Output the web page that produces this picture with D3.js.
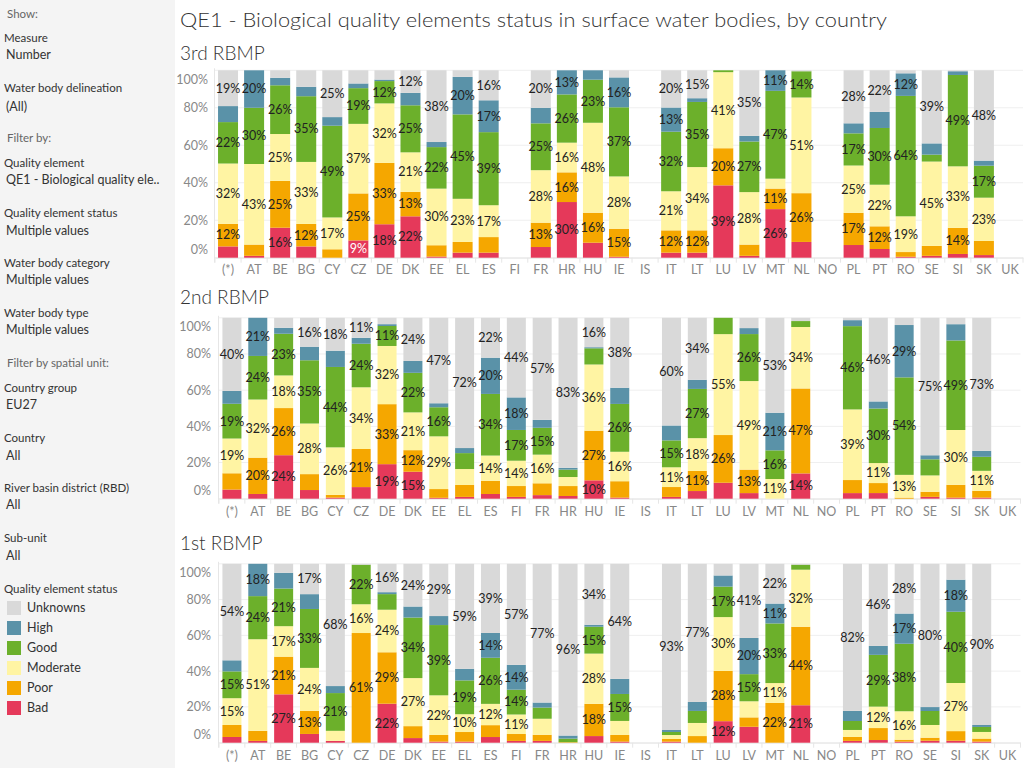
<!DOCTYPE html>
<html><head><meta charset="utf-8">
<script src="https://cdn.jsdelivr.net/npm/d3@7"></script>
<style>
body{margin:0;background:#fff;}
svg{display:block;font-family:Lato,"Open Sans",sans-serif;}
</style></head><body>
<svg id="c" width="1024" height="768"></svg>
<script>
const countries = ["(*)","AT","BE","BG","CY","CZ","DE","DK","EE","EL","ES","FI","FR","HR","HU","IE","IS","IT","LT","LU","LV","MT","NL","NO","PL","PT","RO","SE","SI","SK","UK"];
const statuses = ["Bad","Poor","Moderate","Good","High","Unknowns"];
const panels = ["3rd RBMP","2nd RBMP","1st RBMP"];
const yTicks = [0,0.2,0.4,0.6,0.8,1];

// 3rd RBMP (% of water bodies)
const bad3  = [6,1,16,6,0,9.2,18,22,0.6,2.7,2.7,null,5.7,30,8,0.5,null,2.7,2.7,39,1,26,8.4,null,6.7,4.6,0.5,1,2,1.4,null];
const poor3 = [12,6,25,12,4.5,25,33,13,6,5.7,8.3,null,13,16,16,15,null,12,12,20,6,11,26,null,17,12,2.5,5.3,14,7.5,null];
const mod3  = [32,43,25,33,17,37,32,21,30,23,17,null,28,16,48,28,null,21,34,41,28,5.3,51,null,25,22,19,45,33,23,null];
const good3 = [22,30,26,35,49,19,12,25,22,45,39,null,25,26,23,37,null,32,35,1,27,47,14,null,17,30,64,3.7,49,17,null];
const high3 = [8.5,20,4,5,4.6,2.5,0.8,6.6,2.7,20,17,null,8.3,13,5,16,null,13,2,0,3,11,0,null,5.3,8.5,12,6,2,2.7,null];
const unk3  = [19,0,4,8.8,25,7,5,12,38,3.5,16,null,20,0,0,3.8,null,20,15,0,35,0,0.5,null,28,22,1.6,39,0.5,48,null];

// 2nd RBMP
const bad2  = [5,2.6,24,4.8,0.6,6.4,19,15,0.5,1,2.6,1,2,1.5,10,0.6,null,1,4.2,8.7,3.1,0,14,null,3.1,3.1,0,1,0.6,0.6,null];
const poor2 = [8.9,20,26,8.8,1.5,21,33,12,4.8,6.6,7.2,6,6.6,5.5,27,8.9,null,5.5,11,26,13,0,47,null,7.2,5.5,0.6,2.8,7,3.7,null];
const mod2  = [19,32,18,28,26,34,32,21,29,8.8,14,14,16,5,36,16,null,11,18,55,49,11,34,null,39,11,12.6,8.9,30,11,null];
const good2 = [19,24,23,35,44,24,11,22,16,8.8,34,17,15,4.1,8.8,26,null,15,27,8.9,26,16,3.3,null,46,30,54,8.8,49,7.7,null];
const high2 = [7,21,3.3,7.5,8.9,3.3,1,6.6,2.2,2.8,20,18,4.4,1,0.6,8.8,null,8.3,5,0,3.3,21,0,null,3.3,3.9,29,2.2,8.9,3.3,null];
const unk2  = [40,0,5.5,16,18,11,3.5,24,47,72,22,44,57,83,16,38,null,60,34,0,5.7,53,1.8,null,1.3,46,4,75,3.5,73,null];

// 1st RBMP
const bad1  = [3.2,1,27,4.9,1,0,22,2.6,0.6,0.6,3.2,1,1,0,3.7,0.6,null,0.6,0,12,8.8,0,21,null,1,1.5,0.6,1.1,1.1,0.6,null];
const poor1 = [6.7,5.6,21,13,0,61,29,6.7,3.7,5.4,6.7,3.9,3.4,0.3,18,3.7,null,1.5,3.7,28,5.2,22,44,null,2.2,6.7,1.1,1.7,5.4,1.7,null];
const mod1  = [15,51,17,24,5.6,16,24,27,22,10,12,11,8.9,0,28,7.8,null,2.2,7.3,30,8.9,11,32,null,3.9,12,16,7.1,27,3.7,null];
const good1 = [15,24,21,33,21,22,8.8,34,39,19,26,14,6.2,2,15,15,null,1.7,6.7,17,15,33,2.8,null,5,29,38,7.8,40,2.8,null];
const high1 = [6.2,18,8.8,8.3,3.9,0,1.1,6.2,5,6.5,14,14,2.8,1.7,1.1,8.4,null,1.1,5,6.2,20,11,0,null,5.6,5,17,2.2,18,1.1,null];
const unk1  = [54,0,5,17,68,0.5,16,24,29,59,39,57,77,96,34,64,null,93,77,6.5,41,22,0.5,null,82,46,28,80,8.9,90,null];

const colors = {Bad:"#e5395a",Poor:"#f5a700",Moderate:"#fff4a3",Good:"#6cb02b",High:"#5a92a8",Unknowns:"#d9d9d9"};
const legendOrder = ["Unknowns","High","Good","Moderate","Poor","Bad"];

const svg = d3.select("#c");
// sidebar
svg.append("rect").attr("x",0).attr("y",0).attr("width",175).attr("height",768).attr("fill","#f4f4f4");
const side = [
  ["Show:",14,"s"],["Measure",38,"f"],["Number",55,"v"],
  ["Water body delineation",88,"f"],["(All)",107,"v"],
  ["Filter by:",138,"s"],
  ["Quality element",163,"f"],["QE1 - Biological quality ele..",180,"v"],
  ["Quality element status",213,"f"],["Multiple values",231,"v"],
  ["Water body category",263,"f"],["Multiple values",280,"v"],
  ["Water body type",313,"f"],["Multiple values",330,"v"],
  ["Filter by spatial unit:",363,"s"],
  ["Country group",388,"f"],["EU27",405,"v"],
  ["Country",438,"f"],["All",456,"v"],
  ["River basin district (RBD)",488,"f"],["All",505,"v"],
  ["Sub-unit",538,"f"],["All",556,"v"],
  ["Quality element status",589,"f"]
];
svg.append("g").selectAll("text").data(side).join("text")
  .attr("x",d=>d[2]==="f"?4:(d[2]==="v"?6:7))
  .attr("y",d=>d[1]).attr("dy","0.35em")
  .attr("font-size",d=>d[2]==="v"?12.5:(d[2]==="s"?11.5:11.5))
  .attr("fill",d=>d[2]==="s"?"#666":"#333")
  .text(d=>d[0]);
const lg = svg.append("g").selectAll("g").data(legendOrder).join("g")
  .attr("transform",(d,i)=>`translate(7,${608+i*20})`);
lg.append("rect").attr("x",0).attr("y",-7).attr("width",14).attr("height",14).attr("fill",d=>colors[d]);
lg.append("text").attr("x",20).attr("dy","0.35em").attr("font-size",12.5).attr("fill","#333").text(d=>d);

// title
svg.append("text").attr("x",180).attr("y",20).attr("dy","0.35em").attr("font-size",20).attr("font-weight",300)
  .attr("fill","#333").attr("textLength",707).attr("lengthAdjust","spacingAndGlyphs")
  .text("QE1 - Biological quality elements status in surface water bodies, by country");

const defs = [
  {data:[bad3,poor3,mod3,good3,high3,unk3], top:70.3, bottom:257.7, r0:215, r1:1023, pad:0.233, yLabX:208, titleY:53, xLabY:270},
  {data:[bad2,poor2,mod2,good2,high2,unk2], top:317.8, bottom:498.7, r0:219, r1:1020.5, pad:0.265, yLabX:211, titleY:297, xLabY:511.5},
  {data:[bad1,poor1,mod1,good1,high1,unk1], top:563.8, bottom:742.7, r0:219, r1:1020.5, pad:0.265, yLabX:211, titleY:543, xLabY:755.5}
];

defs.forEach((p,pi)=>{
  const g = svg.append("g");
  g.append("text").attr("x",180).attr("y",p.titleY).attr("dy","0.35em").attr("font-size",19).attr("font-weight",300)
    .attr("fill","#333").text(panels[pi]);
  const x = d3.scaleBand().domain(countries).range([p.r0,p.r1]).paddingInner(p.pad).paddingOuter(p.pad/2);
  const y = d3.scaleLinear().domain([0,1]).range([p.bottom,p.top]);
  // grid
  g.append("g").selectAll("line").data(yTicks).join("line")
    .attr("x1",p.r0).attr("x2",p.r1).attr("y1",d=>y(d)).attr("y2",d=>y(d))
    .attr("stroke","#efefef").attr("stroke-width",1);
  // y axis line
  g.append("line").attr("x1",p.r0-0.5).attr("x2",p.r0-0.5).attr("y1",p.top-2).attr("y2",p.bottom+5).attr("stroke","#e6e6e6");
  // y labels
  const fmt = d3.format(".0%");
  g.append("g").selectAll("text").data(yTicks).join("text")
    .attr("x",p.yLabX).attr("text-anchor","end")
    .attr("y",d=>Math.min(p.bottom-8, Math.max(p.top+9, y(d)))).attr("dy","0.35em")
    .attr("font-size",12.5).attr("fill","#888").text(d=>fmt(d));
  // x axis
  const xa = g.append("g").attr("transform",`translate(0,${p.bottom})`).call(d3.axisBottom(x).tickSize(0));
  xa.select(".domain").attr("stroke","#e6e6e6");
  xa.selectAll("text").attr("y",p.xLabY-p.bottom).attr("dy","0.35em").attr("font-size",12.5).attr("fill","#888")
    .attr("font-family","Lato, 'Open Sans', sans-serif");
  // separators
  const step = x.step();
  g.append("g").selectAll("line").data(countries.concat(["__end"])).join("line")
    .attr("x1",(d,i)=>p.r0 + step*p.pad/2 - step*p.pad/2 + i*step).attr("x2",(d,i)=>p.r0 + i*step)
    .attr("y1",p.bottom).attr("y2",p.bottom+5).attr("stroke","#e6e6e6");
  // data rows
  const rows = countries.map((c,i)=>{const r={country:c}; statuses.forEach((s,k)=>r[s]=p.data[k][i]); return r;})
    .filter(r=>r.Bad!==null);
  const stacked = d3.stack().keys(statuses).offset(d3.stackOffsetExpand)(rows);
  const layers = g.append("g").selectAll("g").data(stacked).join("g").attr("fill",d=>colors[d.key]);
  layers.selectAll("rect").data(d=>d).join("rect")
    .attr("x",d=>x(d.data.country)).attr("width",x.bandwidth())
    .attr("y",d=>y(d[1])).attr("height",d=>Math.max(0,y(d[0])-y(d[1])));
  // labels
  const labs = [];
  stacked.forEach(layer=>layer.forEach(d=>{
    const v = d.data[layer.key];
    if (v >= 9) labs.push({key:layer.key, c:d.data.country, v, mid:(d[0]+d[1])/2});
  }));
  g.append("g").selectAll("text").data(labs).join("text")
    .attr("x",d=>x(d.c)+x.bandwidth()/2).attr("y",d=>y(d.mid)).attr("dy","0.35em")
    .attr("text-anchor","middle").attr("font-size",12.5)
    .attr("fill",d=>(pi===0 && d.c==="CZ" && d.key==="Bad")?"#ffffff":"#222")
    .text(d=>Math.round(d.v)+"%");
});
</script>
</body></html>
